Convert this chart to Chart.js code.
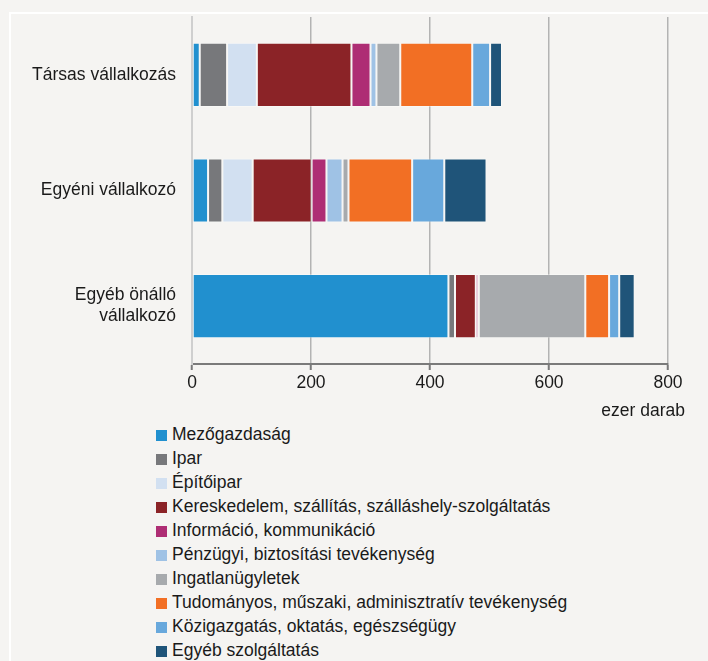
<!DOCTYPE html>
<html lang="hu">
<head>
<meta charset="UTF-8">
<title>Vállalkozások nemzetgazdasági ág szerint</title>
<script src="https://cdn.jsdelivr.net/npm/chart.js"></script>
<style>
  * { margin: 0; padding: 0; box-sizing: border-box; }
  body {
    width: 708px; height: 661px; overflow: hidden;
    background: #f5f4f2;
    font-family: "Liberation Sans", Arial, sans-serif;
    color: #1a1a1a;
    position: relative;
  }
  .frame {
    position: absolute; left: 9px; top: 12px; right: -10px; bottom: -10px;
    border-top: 2px solid #fff; border-left: 2px solid #fff;
  }
  #wrap { position: absolute; left: 0; top: 0; width: 708px; height: 420px; }
  .unit {
    position: absolute; right: 23px; top: 400px;
    font-size: 17.5px;
  }
  #legend {
    position: absolute; left: 156px; top: 422px;
    list-style: none; font-size: 17.5px;
  }
  #legend li { height: 24px; line-height: 24px; white-space: nowrap; }
  #legend span {
    display: inline-block; width: 11px; height: 11px;
    margin-right: 5px; vertical-align: -1px;
  }
</style>
</head>
<body>
<div class="frame"></div>
<div id="wrap"><canvas id="chart" width="708" height="420"></canvas></div>
<div class="unit">ezer darab</div>
<ul id="legend"></ul>

<script>
// categories, top to bottom
const categories = [
  'Társas vállalkozás',
  'Egyéni vállalkozó',
  ['Egyéb önálló', 'vállalkozó']
];

const xTicks = [0, 200, 400, 600, 800];

// values in thousand units, per sector, one per category
const mezogazdasag = [13, 27, 431];
const ipar         = [46, 24, 11];
const epitoipar    = [50, 51, 0];
const kereskedelem = [159, 99, 35];
const informacio   = [32, 25, 4];
const penzugyi     = [10, 27, 1];
const ingatlan     = [40, 10, 179];
const tudomanyos   = [121, 107, 40];
const kozigazgatas = [30, 54, 17];
const egyebSzolg   = [20, 71, 26];

const seriesNames = [
  'Mezőgazdaság',
  'Ipar',
  'Építőipar',
  'Kereskedelem, szállítás, szálláshely-szolgáltatás',
  'Információ, kommunikáció',
  'Pénzügyi, biztosítási tevékenység',
  'Ingatlanügyletek',
  'Tudományos, műszaki, adminisztratív tevékenység',
  'Közigazgatás, oktatás, egészségügy',
  'Egyéb szolgáltatás'
];
const seriesValues = [mezogazdasag, ipar, epitoipar, kereskedelem, informacio,
  penzugyi, ingatlan, tudomanyos, kozigazgatas, egyebSzolg];
const seriesColors = ['#2190cf', '#77787b', '#d2e0f1', '#8b2327', '#ae2d74',
  '#9fc2e5', '#a7aaad', '#f26f24', '#68a8dc', '#1f5479'];

const datasets = seriesNames.map((name, i) => ({
  label: name,
  data: seriesValues[i],
  backgroundColor: seriesColors[i],
  borderColor: 'rgba(255,255,255,0.35)',
  borderWidth: 1,
  borderSkipped: false,
  categoryPercentage: 1,
  barPercentage: 0.555
}));

const font = { family: '"Liberation Sans", Arial, sans-serif', size: 17.5 };

const ctx = document.getElementById('chart').getContext('2d');
const chart = new Chart(ctx, {
  type: 'bar',
  data: { labels: categories, datasets: datasets },
  options: {
    indexAxis: 'y',
    responsive: false,
    animation: false,
    layout: { padding: { top: 17, right: 40, left: 0, bottom: 0 } },
    plugins: {
      legend: { display: false },
      tooltip: { enabled: false }
    },
    scales: {
      x: {
        stacked: true,
        min: 0,
        max: 800,
        afterBuildTicks: (scale) => { scale.ticks = xTicks.map(v => ({ value: v })); },
        afterFit: (scale) => { scale.height = 56; },
        ticks: { color: '#1a1a1a', padding: 3, font: font },
        grid: {
          color: (c) => c.tick && c.tick.value === 0 ? '#d0d0d0' : '#b3b3b3',
          lineWidth: 1.5,
          tickLength: 6,
          tickColor: '#7a7a7a',
          tickWidth: 2
        },
        border: { color: '#7a7a7a', width: 2 }
      },
      y: {
        stacked: true,
        afterFit: (scale) => {
          scale.width = 192;
          scale.paddingTop = 0;
          scale.paddingBottom = 0;
        },
        ticks: { color: '#1a1a1a', padding: 16, font: font },
        grid: { display: false, drawTicks: false },
        border: { color: '#cfcfcf', width: 2 }
      }
    }
  }
});

// legend in a single column, built from the chart's datasets
const legend = document.getElementById('legend');
chart.data.datasets.forEach(ds => {
  const li = document.createElement('li');
  const sw = document.createElement('span');
  sw.style.background = ds.backgroundColor;
  li.appendChild(sw);
  li.appendChild(document.createTextNode(ds.label));
  legend.appendChild(li);
});
</script>
</body>
</html>
